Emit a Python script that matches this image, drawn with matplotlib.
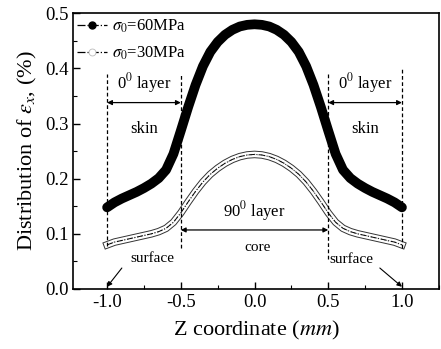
import matplotlib
matplotlib.use("Agg")
import matplotlib.pyplot as plt
import matplotlib.patheffects as pe
from matplotlib.lines import Line2D
from matplotlib.ticker import MultipleLocator

plt.rcParams['font.family'] = ['Liberation Serif', 'DejaVu Serif']
plt.rcParams['mathtext.fontset'] = 'stix'

z = [-1.00, -0.95, -0.90, -0.85, -0.80, -0.75, -0.70, -0.65, -0.60, -0.55,
     -0.50, -0.45, -0.40, -0.35, -0.30, -0.25, -0.20, -0.15, -0.10, -0.05,
     0.00, 0.05, 0.10, 0.15, 0.20, 0.25, 0.30, 0.35, 0.40, 0.45,
     0.50, 0.55, 0.60, 0.65, 0.70, 0.75, 0.80, 0.85, 0.90, 0.95, 1.00]

eps_60 = [0.148, 0.157, 0.164, 0.170, 0.176, 0.183, 0.191, 0.201, 0.216, 0.245,
          0.287, 0.330, 0.370, 0.404, 0.430, 0.448, 0.461, 0.470, 0.476, 0.479,
          0.480, 0.479, 0.476, 0.470, 0.461, 0.448, 0.430, 0.404, 0.370, 0.330,
          0.287, 0.245, 0.216, 0.201, 0.191, 0.183, 0.176, 0.170, 0.164, 0.157, 0.148]

eps_30 = [0.080, 0.085, 0.088, 0.091, 0.094, 0.097, 0.100, 0.104, 0.110, 0.121,
          0.138, 0.158, 0.177, 0.194, 0.208, 0.219, 0.228, 0.235, 0.240, 0.243,
          0.244, 0.243, 0.240, 0.235, 0.228, 0.219, 0.208, 0.194, 0.177, 0.158,
          0.138, 0.121, 0.110, 0.104, 0.100, 0.097, 0.094, 0.091, 0.088, 0.085, 0.080]

labels = [r'$\sigma_0$=60MPa', r'$\sigma_0$=30MPa']
xticks = [-1.0, -0.5, 0.0, 0.5, 1.0]
yticks = [0.0, 0.1, 0.2, 0.3, 0.4, 0.5]

fig = plt.figure(figsize=(4.41, 3.49), dpi=100)
ax = fig.add_axes([0.166, 0.172, 0.829, 0.790])

# 60 MPa: thick solid black
ax.plot(z, eps_60, color='black', lw=7, solid_capstyle='round', solid_joinstyle='round')

# 30 MPa: hollow band plus dash-dot
ax.plot(z, eps_30, color='white', lw=4.0, solid_joinstyle='round',
        path_effects=[pe.Stroke(linewidth=5.4, foreground='#333333'), pe.Normal()])
ax.plot(z, eps_30, color='#aaaaaa', lw=1.0, ls=(0, (1, 1.5)))
ax.plot(z, eps_30, color='black', lw=0.7, ls='-.')

# vertical dashed boundaries
for xv, y0, y1 in [(-1.0, 0.078, 0.39), (-0.5, 0.075, 0.39),
                   (0.5, 0.055, 0.39), (1.0, 0.075, 0.40)]:
    ax.plot([xv, xv], [y0, y1], color='black', lw=0.9, ls=(0, (3, 2)))

arrow = dict(arrowstyle='<|-|>', color='black', lw=0.9, mutation_scale=7, shrinkA=0, shrinkB=0)
fs = 12
ax.annotate('', xy=(-1.0, 0.338), xytext=(-0.5, 0.338), arrowprops=arrow)
ax.annotate('', xy=(0.5, 0.338), xytext=(1.0, 0.338), arrowprops=arrow)
ax.annotate('', xy=(-0.5, 0.107), xytext=(0.5, 0.107), arrowprops=arrow)

ax.text(-0.75, 0.374, r'0$^0$ layer', ha='center', va='center', fontsize=fs)
ax.text(0.75, 0.374, r'0$^0$ layer', ha='center', va='center', fontsize=fs)
ax.text(-0.75, 0.29, 'skin', ha='center', va='center', fontsize=fs)
ax.text(0.75, 0.29, 'skin', ha='center', va='center', fontsize=fs)
ax.text(0.0, 0.142, r'90$^0$ layer', ha='center', va='center', fontsize=fs)
ax.text(0.02, 0.076, 'core', ha='center', va='center', fontsize=fs - 1)

sarrow = dict(arrowstyle='-|>', color='black', lw=0.8, mutation_scale=7, shrinkA=0, shrinkB=0)
ax.text(-0.69, 0.056, 'surface', ha='center', va='center', fontsize=fs - 1)
ax.annotate('', xy=(-1.0, 0.004), xytext=(-0.90, 0.038), arrowprops=sarrow)
ax.text(0.66, 0.054, 'surface', ha='center', va='center', fontsize=fs - 1)
ax.annotate('', xy=(1.0, 0.004), xytext=(0.85, 0.038), arrowprops=sarrow)

handles = [Line2D([], [], color='black', ls='-.', lw=0.9, marker='o', markersize=5,
                  markerfacecolor='black'),
           Line2D([], [], color='black', ls='-.', lw=0.9, marker='o', markersize=5,
                  markerfacecolor='white', markeredgecolor='#bbbbbb', markeredgewidth=0.6)]
ax.legend(handles, labels, loc='upper left', frameon=False, fontsize=12,
          handlelength=1.8, handletextpad=0.35, borderaxespad=0.0, labelspacing=0.55,
          borderpad=0.2, bbox_to_anchor=(0.0, 0.995))

ax.set_xlim(-1.23, 1.25)
ax.set_ylim(0.0, 0.5)
ax.set_xticks(xticks)
ax.set_yticks(yticks)
ax.set_xticklabels(['%.1f' % v for v in xticks])
ax.set_yticklabels(['%.1f' % v for v in yticks])
ax.xaxis.set_minor_locator(MultipleLocator(0.25))
ax.yaxis.set_minor_locator(MultipleLocator(0.05))
ax.tick_params(which='both', direction='in', top=False, right=False, labelsize=13.5)
ax.tick_params(which='major', length=5, width=1)
ax.tick_params(which='minor', length=3, width=0.8)
for s in ax.spines.values():
    s.set_linewidth(1.2)

ax.set_xlabel(r'Z coordinate ($mm$)', fontsize=16, labelpad=6)
ax.set_ylabel(r'Distribution of $\varepsilon_x$, (%)', fontsize=16, labelpad=4)

fig.savefig('out.png', dpi=100)
